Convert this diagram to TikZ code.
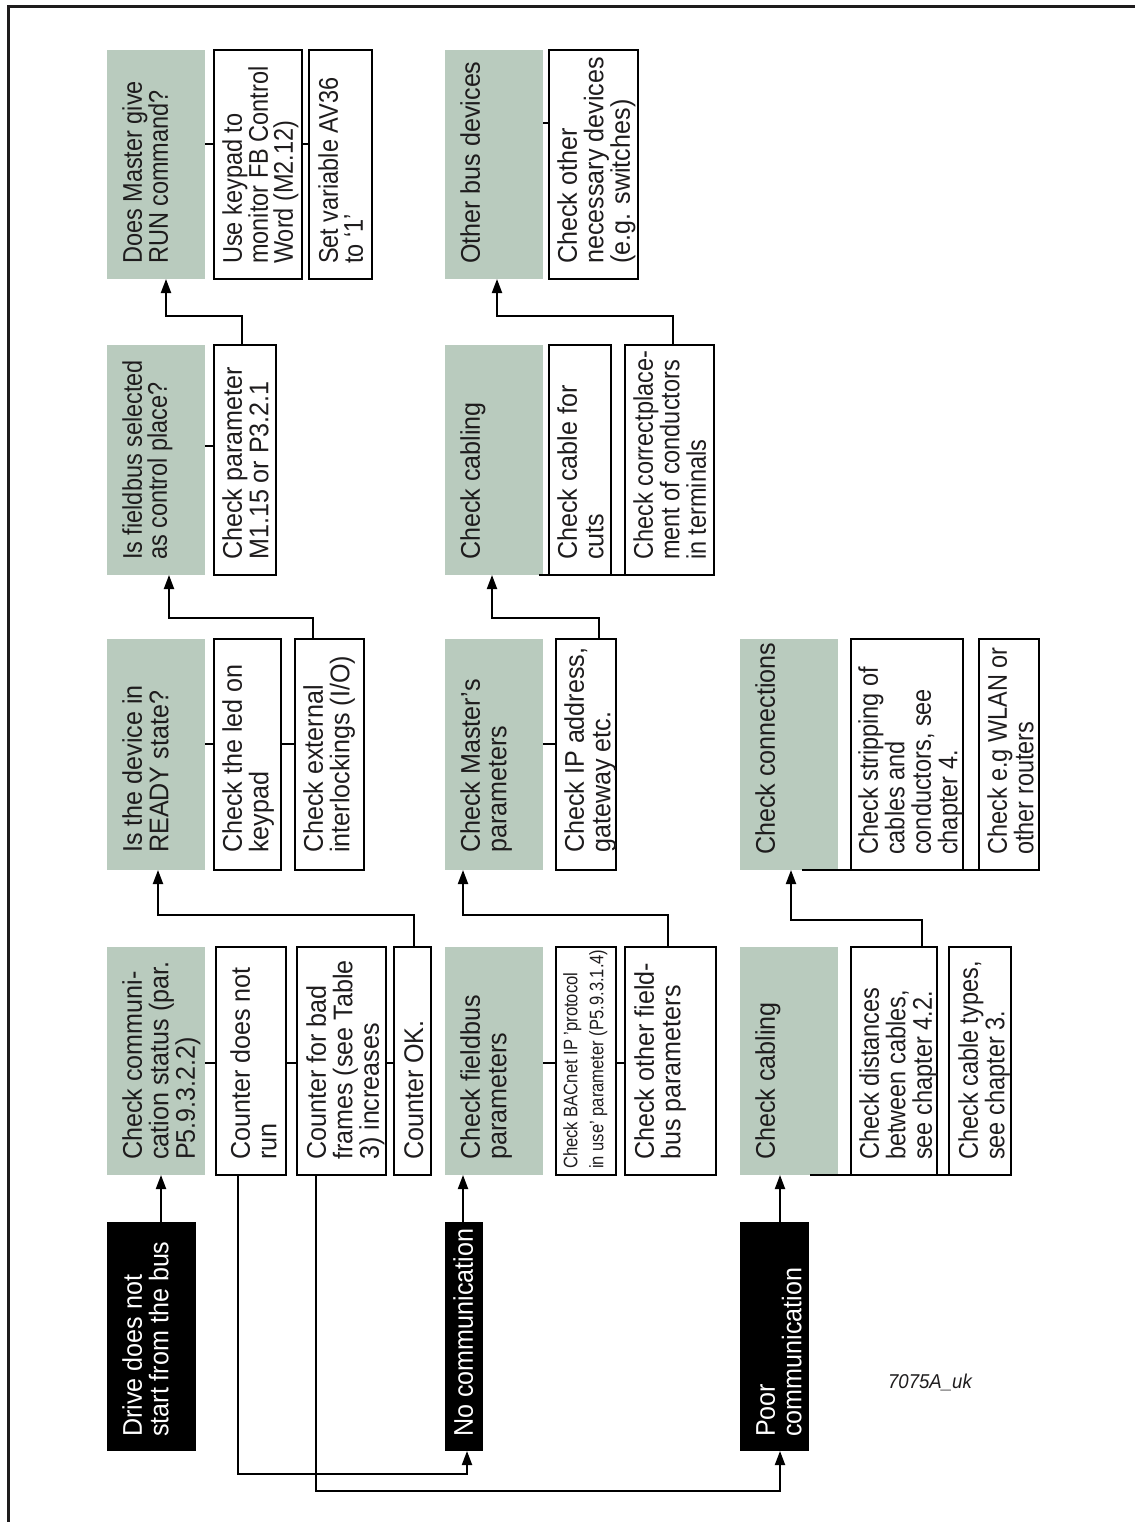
\documentclass[tikz,border=0pt]{standalone}
\usepackage{fontspec}
\setmainfont[FakeStretch=0.93]{Liberation Sans}
\newfontfamily\cnd[FakeStretch=0.87]{Liberation Sans}
\newfontfamily\cndb[FakeStretch=0.85]{Liberation Sans}
\usetikzlibrary{arrows.meta,calc}
\definecolor{sage}{RGB}{185,203,190}
\definecolor{ink}{RGB}{30,28,29}
\newcommand{\bx}[6]{\node[#2, minimum width=#5pt, minimum height=#6pt] (#1) at (#3,#4) {};}
\newcommand{\tb}[5]{\node[#2] (#1t) at ([shift={(#3,-#4)}]#1.south west) {#5};}
\begin{document}
\begin{tikzpicture}[x=1pt,y=-1pt,
  box/.style={anchor=north west, inner sep=0pt, outer sep=0pt},
  gbox/.style={box, fill=sage},
  wbox/.style={box, draw=black, line width=2pt, fill=white},
  bbox/.style={box, fill=black},
  txt/.style={rotate=90, anchor=north west, inner sep=0pt, align=left, text=ink, font=\fontsize{27}{26.5}\selectfont},
  ctxt/.style={txt, font=\cnd\fontsize{27}{25}\selectfont},
  c3txt/.style={txt, font=\cnd\fontsize{27}{26.5}\selectfont},
  stxt/.style={txt, font=\cndb\fontsize{19.5}{26}\selectfont},
  wtxt/.style={txt, text=white},
  ln/.style={line width=2pt},
  arr/.style={line width=2pt, -{Triangle[length=14pt,width=10pt]}},
]
\useasboundingbox (0,0) rectangle (1135,1522);
\draw[line width=3pt, color=ink] (8.5,1522) -- (8.5,6.5) -- (1135,6.5);

% ---------- group 1 ----------
\bx{g1a}{gbox}{107}{50}{98}{229}
\bx{w1a1}{wbox}{214}{50}{88}{229}
\bx{w1a2}{wbox}{309}{50}{63}{229}
\bx{g1b}{gbox}{107}{345}{98}{230}
\bx{w1b}{wbox}{214}{345}{62}{230}
\bx{g1c}{gbox}{107}{639}{98}{231}
\bx{w1c1}{wbox}{214}{639}{67}{231}
\bx{w1c2}{wbox}{295}{639}{69}{231}
\bx{g1d}{gbox}{107}{947}{98}{228}
\bx{w1d1}{wbox}{216}{947}{70}{228}
\bx{w1d2}{wbox}{297}{947}{89}{228}
\bx{w1d3}{wbox}{394}{947}{37}{228}
\bx{b1}{bbox}{107}{1222}{89}{229}

% ---------- group 2 ----------
\bx{g2a}{gbox}{445}{50}{98}{229}
\bx{w2a}{wbox}{549}{50}{89}{229}
\bx{g2b}{gbox}{445}{345}{98}{230}
\bx{w2b1}{wbox}{549}{345}{62}{230}
\bx{w2b2}{wbox}{625}{345}{89}{230}
\bx{g2c}{gbox}{445}{639}{98}{231}
\bx{w2c}{wbox}{556}{639}{60}{231}
\bx{g2d}{gbox}{445}{947}{98}{228}
\bx{w2d1}{wbox}{556}{947}{60}{228}
\bx{w2d2}{wbox}{625}{947}{91}{228}
\bx{b2}{bbox}{445}{1222}{38}{229}

% ---------- group 3 ----------
\bx{g3c}{gbox}{740}{639}{98}{231}
\bx{w3c1}{wbox}{851}{639}{112}{231}
\bx{w3c2}{wbox}{979}{639}{60}{231}
\bx{g3d}{gbox}{740}{947}{98}{228}
\bx{w3d1}{wbox}{851}{947}{86}{228}
\bx{w3d2}{wbox}{949}{947}{62}{228}
\bx{b3}{bbox}{740}{1222}{69}{229}

% ---------- short connectors ----------
\draw[ln] ($(g1a.north east)+(0,94)$) -- ($(w1a1.north west)+(0,94)$);
\draw[ln] ($(w1a1.north east)+(0,94)$) -- ($(w1a2.north west)+(0,94)$);
\draw[ln] ($(g1b.north east)+(0,101)$) -- ($(w1b.north west)+(0,101)$);
\draw[ln] ($(g1c.north east)+(0,105)$) -- ($(w1c1.north west)+(0,105)$);
\draw[ln] ($(w1c1.north east)+(0,105)$) -- ($(w1c2.north west)+(0,105)$);
\draw[ln] ($(g1d.north east)+(0,116)$) -- ($(w1d1.north west)+(0,116)$);
\draw[ln] ($(w1d1.north east)+(0,116)$) -- ($(w1d2.north west)+(0,116)$);
\draw[ln] ($(w1d2.north east)+(0,116)$) -- ($(w1d3.north west)+(0,116)$);
\draw[ln] ($(g2a.north east)+(0,73)$) -- ($(w2a.north west)+(0,73)$);
\draw[ln] ($(g2b.south east)+(-4,0)$) -- ($(w2b2.south west)+(8,0)$);
\draw[ln] ($(g2c.north east)+(0,105)$) -- ($(w2c.north west)+(0,105)$);
\draw[ln] ($(g2d.north east)+(0,116)$) -- ($(w2d1.north west)+(0,116)$);
\draw[ln] ($(w2d1.north east)+(0,116)$) -- ($(w2d2.north west)+(0,116)$);
\draw[ln] ($(g3c.south east)+(-36,0)$) -- (w3c2.south west);
\draw[ln] ($(g3d.south east)+(-28,0)$) -- (w3d2.south west);

% ---------- arrows ----------
\draw[arr] ($(b1.north west)+(54,0)$) -- ($(g1d.south west)+(54,0)$);
\draw[arr] ($(w1d3.north west)+(20,0)$) -- ++(0,-32) -| ($(g1c.south west)+(51,0)$);
\draw[arr] ($(w1c2.north west)+(18,0)$) -- ++(0,-21) -| ($(g1b.south west)+(62,0)$);
\draw[arr] ($(w1b.north west)+(28,0)$) -- ++(0,-29) -| ($(g1a.south west)+(59,0)$);
\draw[arr] ($(b2.north west)+(18,0)$) -- ($(g2d.south west)+(18,0)$);
\draw[arr] ($(w2d2.north west)+(43,0)$) -- ++(0,-32) -| ($(g2c.south west)+(18,0)$);
\draw[arr] ($(w2c.north west)+(43,0)$) -- ++(0,-21) -| ($(g2b.south west)+(47,0)$);
\draw[arr] ($(w2b2.north west)+(48,0)$) -- ++(0,-29) -| ($(g2a.south west)+(52,0)$);
\draw[arr] ($(b3.north west)+(40,0)$) -- ($(g3d.south west)+(40,0)$);
\draw[arr] ($(w3d1.north west)+(71,0)$) -- ++(0,-27) -| ($(g3c.south west)+(51,0)$);
\draw[arr] ($(w1d1.south west)+(22,0)$) -- ++(0,299) -| ($(b2.south west)+(22,0)$);
\draw[arr] ($(w1d2.south west)+(19,0)$) -- ++(0,316) -| ($(b3.south west)+(40,0)$);

% ---------- texts group 1 ----------
\tb{g1a}{ctxt}{15}{15}{Does Master give\\RUN command?}
\tb{w1a1}{ctxt}{8}{15}{Use keypad to\\monitor FB Control\\Word (M2.12)}
\tb{w1a2}{ctxt}{9}{15}{Set variable AV36\\to ‘1’}
\tb{g1b}{ctxt}{15}{15}{Is fieldbus selected\\as control place?}
\tb{w1b}{txt}{8}{15}{Check parameter\\M1.15 or P3.2.1}
\tb{g1c}{txt}{15}{17}{Is the device in\\READY state?}
\tb{w1c1}{txt}{8}{17}{Check the led on\\keypad}
\tb{w1c2}{txt}{8}{17}{Check external\\interlockings (I/O)}
\tb{g1d}{txt}{15}{15}{Check communi-\\cation status (par.\\P5.9.3.2.2)}
\tb{w1d1}{txt}{14}{15}{Counter does not\\run}
\tb{w1d2}{txt}{9}{15}{Counter for bad\\frames (see Table\\3) increases}
\tb{w1d3}{txt}{10}{15}{Counter OK.}
\tb{b1}{wtxt}{15}{14}{Drive does not\\start from the bus}

% ---------- texts group 2 ----------
\tb{g2a}{txt}{15}{15}{Other bus devices}
\tb{w2a}{txt}{8}{15}{Check other\\necessary devices\\(e.g. switches)}
\tb{g2b}{txt}{15}{15}{Check cabling}
\tb{w2b1}{txt}{8}{15}{Check cable for\\cuts}
\tb{w2b2}{c3txt}{8}{15}{Check correctplace-\\ment of conductors\\in terminals}
\tb{g2c}{txt}{15}{17}{Check Master’s\\parameters}
\tb{w2c}{txt}{8}{17}{Check IP address,\\gateway etc.}
\tb{g2d}{txt}{15}{15}{Check fieldbus\\parameters}
\tb{w2d1}{stxt}{7}{6}{Check BACnet IP ’protocol\\in use’ parameter (P5.9.3.1.4)}
\tb{w2d2}{txt}{9}{15}{Check other field-\\bus parameters}
\tb{b2}{wtxt}{8}{14}{No communication}

% ---------- texts group 3 ----------
\tb{g3c}{txt}{15}{15}{Check connections}
\tb{w3c1}{c3txt}{7}{15}{Check stripping of\\cables and\\conductors, see\\chapter 4.}
\tb{w3c2}{c3txt}{8}{15}{Check e.g WLAN or\\other routers}
\tb{g3d}{txt}{15}{15}{Check cabling}
\tb{w3d1}{c3txt}{8}{15}{Check distances\\between cables,\\see chapter 4.2.}
\tb{w3d2}{c3txt}{9}{15}{Check cable types,\\see chapter 3.}
\tb{b3}{wtxt}{16}{14}{Poor\\communication}

\node[font=\itshape\fontsize{20}{22}\selectfont, text=ink] (code) at (930,1382) {7075A\_uk};
\end{tikzpicture}
\end{document}
